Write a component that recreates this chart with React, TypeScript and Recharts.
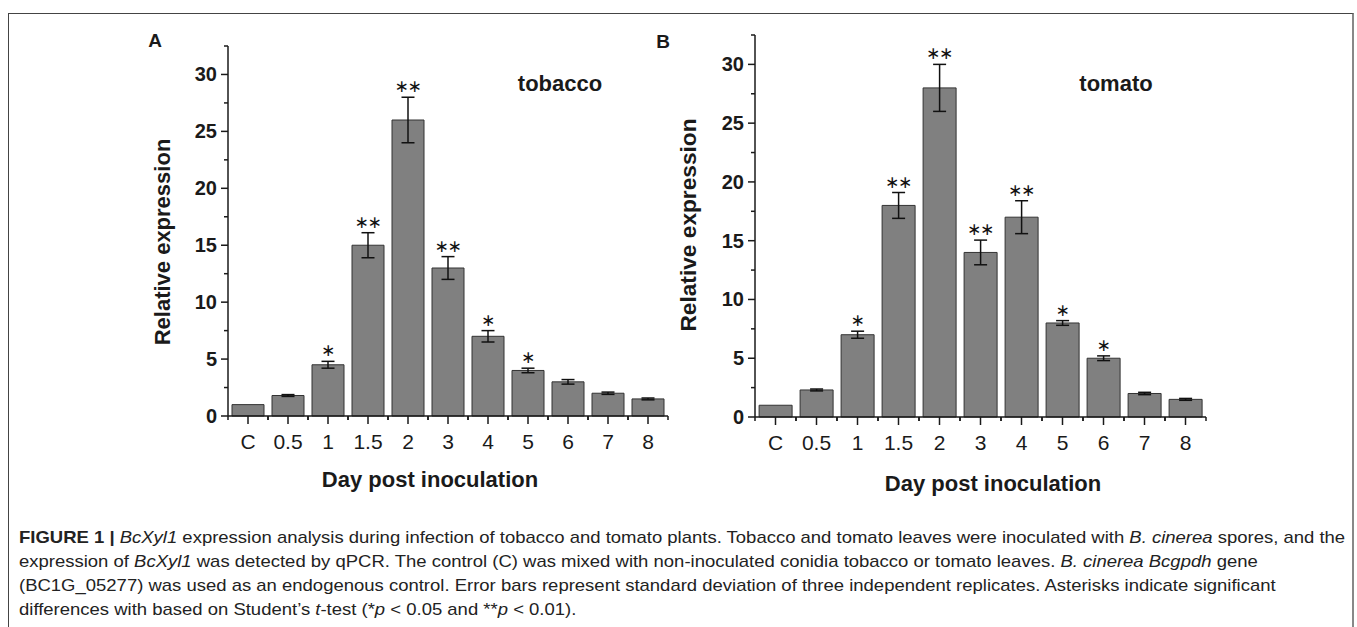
import React from 'react';
import { ComposedChart, Bar, Line, XAxis, YAxis, ErrorBar, LabelList } from 'recharts';

const categories = ['C', '0.5', '1', '1.5', '2', '3', '4', '5', '6', '7', '8'];
const tobaccoValues = [1, 1.8, 4.5, 15, 26, 13, 7, 4, 3, 2, 1.5];
const tobaccoErrors = [0, 0.08, 0.3, 1.1, 2, 1, 0.5, 0.2, 0.2, 0.1, 0.08];
const tobaccoStars = ['', '', '*', '**', '**', '**', '*', '*', '', '', ''];
const tomatoValues = [1, 2.3, 7, 18, 28, 14, 17, 8, 5, 2, 1.5];
const tomatoErrors = [0, 0.08, 0.3, 1.1, 2, 1.05, 1.4, 0.2, 0.2, 0.1, 0.08];
const tomatoStars = ['', '', '*', '**', '**', '**', '**', '*', '*', '', ''];
const yTicks = [0, 2.5, 5, 7.5, 10, 12.5, 15, 17.5, 20, 22.5, 25, 27.5, 30, 32.5];
const yDomain = [0, 32.5];

const buildRows = (values: number[], errors: number[], stars: string[]) =>
  categories.map((c, i) => ({
    cat: c,
    value: values[i],
    err: errors[i],
    top: values[i] + errors[i],
    stars: stars[i],
  }));

const tobaccoRows = buildRows(tobaccoValues, tobaccoErrors, tobaccoStars);
const tomatoRows = buildRows(tomatoValues, tomatoErrors, tomatoStars);

const FONT = '"Liberation Sans", Arial, sans-serif';
const INK = '#1a1a1a';

const Y_TICK_SIZE = 7;
const Y_TICK_MARGIN = 4;
const X_TICK_SIZE = 8;
const X_TICK_MARGIN = 10;

const YTick = (props: any) => {
  const { x, y, payload } = props;
  const axisX = x + Y_TICK_MARGIN + Y_TICK_SIZE;
  const v = payload.value;
  const major = Math.abs(v % 5) < 1e-6;
  return (
    <g>
      <line x1={axisX - (major ? Y_TICK_SIZE : 4)} x2={axisX} y1={y} y2={y} stroke={INK} strokeWidth={1.5} />
      {major && (
        <text x={x} y={y} textAnchor="end" dominantBaseline="central" fontFamily={FONT} fontWeight="bold" fontSize={20} fill={INK}>
          {v}
        </text>
      )}
    </g>
  );
};

const XTick = (props: any) => {
  const { x, y, payload } = props;
  const axisY = y - X_TICK_SIZE - X_TICK_MARGIN;
  const half = payload.offset || 20;
  return (
    <g>
      <line x1={x} x2={x} y1={axisY} y2={axisY + X_TICK_SIZE} stroke={INK} strokeWidth={1.5} />
      <line x1={x - half} x2={x - half} y1={axisY} y2={axisY + 4} stroke={INK} strokeWidth={1.5} />
      <line x1={x + half} x2={x + half} y1={axisY} y2={axisY + 4} stroke={INK} strokeWidth={1.5} />
      <text x={x} y={axisY + 25} textAnchor="middle" dominantBaseline="central" fontFamily={FONT} fontSize={21} fill={INK}>
        {payload.value}
      </text>
    </g>
  );
};

const StarLabel = (props: any) => {
  const { x, y, value } = props;
  if (!value) return null;
  const n = String(value).length;
  const gap = 13;
  const items = [];
  for (let i = 0; i < n; i++) {
    const cx = x + (i - (n - 1) / 2) * gap;
    items.push(
      <text key={i} x={cx} y={y - 11} textAnchor="middle" dominantBaseline="central" fontFamily='"DejaVu Sans", sans-serif' fontSize={17} fill="#111">
        ∗
      </text>
    );
  }
  return <g>{items}</g>;
};

const Panel = ({ rows, margin }: { rows: any[]; margin: any }) => (
  <ComposedChart width={600} height={500} data={rows} margin={margin} barCategoryGap="10%">
    <XAxis
      dataKey="cat"
      type="category"
      interval={0}
      height={30}
      tickSize={X_TICK_SIZE}
      tickMargin={X_TICK_MARGIN}
      tickLine={false}
      axisLine={{ stroke: INK, strokeWidth: 1.5 }}
      tick={<XTick />}
    />
    <YAxis
      type="number"
      domain={yDomain}
      ticks={yTicks}
      interval={0}
      width={60}
      tickSize={Y_TICK_SIZE}
      tickMargin={Y_TICK_MARGIN}
      tickLine={false}
      axisLine={{ stroke: INK, strokeWidth: 1.5 }}
      tick={<YTick />}
    />
    <Bar dataKey="value" fill="#808080" stroke="#333333" strokeWidth={1} isAnimationActive={false}>
      <ErrorBar dataKey="err" width={6.5} stroke="#111" strokeWidth={1.5} isAnimationActive={false} />
    </Bar>
    <Line dataKey="top" stroke="none" dot={false} activeDot={false} isAnimationActive={false} legendType="none">
      <LabelList dataKey="stars" content={<StarLabel />} />
    </Line>
  </ComposedChart>
);

const captionStyle = { fontFamily: FONT, fontSize: 16, fill: '#222' } as any;

export default function App() {
  return (
    <div style={{ position: 'absolute', left: 0, top: 0, width: 1357, height: 627, background: '#fff', overflow: 'hidden' }}>
      <div
        style={{
          position: 'absolute',
          left: 8,
          top: 13,
          width: 1346,
          height: 640,
          borderTop: '1.5px solid #444',
          borderLeft: '1.5px solid #444',
          borderRight: '2px solid #888',
          boxSizing: 'border-box',
        }}
      />
      <div style={{ position: 'absolute', left: 100, top: 0 }}>
        <Panel rows={tobaccoRows} margin={{ top: 46, right: 32, left: 68, bottom: 54 }} />
      </div>
      <div style={{ position: 'absolute', left: 650, top: 0 }}>
        <Panel rows={tomatoRows} margin={{ top: 35, right: 44, left: 45, bottom: 53 }} />
      </div>
      <svg width={1357} height={627} style={{ position: 'absolute', left: 0, top: 0, pointerEvents: 'none' }}>
        <text x={155} y={40} textAnchor="middle" dominantBaseline="central" fontFamily={FONT} fontWeight="bold" fontSize={19} fill={INK}>A</text>
        <text x={663} y={41} textAnchor="middle" dominantBaseline="central" fontFamily={FONT} fontWeight="bold" fontSize={19} fill={INK}>B</text>
        <text x={560} y={83} textAnchor="middle" dominantBaseline="central" fontFamily={FONT} fontWeight="bold" fontSize={22} fill={INK}>tobacco</text>
        <text x={1116} y={83} textAnchor="middle" dominantBaseline="central" fontFamily={FONT} fontWeight="bold" fontSize={22} fill={INK}>tomato</text>
        <text x={162} y={242} textAnchor="middle" dominantBaseline="central" transform="rotate(-90 162 242)" fontFamily={FONT} fontWeight="bold" fontSize={22} fill={INK}>Relative expression</text>
        <text x={688} y={225} textAnchor="middle" dominantBaseline="central" transform="rotate(-90 688 225)" fontFamily={FONT} fontWeight="bold" fontSize={22.7} fill={INK}>Relative expression</text>
        <text x={430} y={479} textAnchor="middle" dominantBaseline="central" fontFamily={FONT} fontWeight="bold" fontSize={22} fill={INK}>Day post inoculation</text>
        <text x={993} y={483} textAnchor="middle" dominantBaseline="central" fontFamily={FONT} fontWeight="bold" fontSize={22} fill={INK}>Day post inoculation</text>

        <g transform="translate(19,0) scale(1.156,1)">
          <text x={0} y={543} {...captionStyle}>
            <tspan fontWeight="bold">FIGURE 1 | </tspan>
            <tspan fontStyle="italic">BcXyl1</tspan>
            <tspan> expression analysis during infection of tobacco and tomato plants. Tobacco and tomato leaves were inoculated with </tspan>
            <tspan fontStyle="italic">B. cinerea</tspan>
            <tspan> spores, and the</tspan>
          </text>
          <text x={0} y={567} {...captionStyle}>
            <tspan>expression of </tspan>
            <tspan fontStyle="italic">BcXyl1</tspan>
            <tspan> was detected by qPCR. The control (C) was mixed with non-inoculated conidia tobacco or tomato leaves. </tspan>
            <tspan fontStyle="italic">B. cinerea Bcgpdh</tspan>
            <tspan> gene</tspan>
          </text>
          <text x={0} y={591} {...captionStyle}>
            (BC1G_05277) was used as an endogenous control. Error bars represent standard deviation of three independent replicates. Asterisks indicate significant
          </text>
          <text x={0} y={615} {...captionStyle}>
            <tspan>differences with based on Student’s </tspan>
            <tspan fontStyle="italic">t</tspan>
            <tspan>-test (*</tspan>
            <tspan fontStyle="italic">p</tspan>
            <tspan> {'<'} 0.05 and **</tspan>
            <tspan fontStyle="italic">p</tspan>
            <tspan> {'<'} 0.01).</tspan>
          </text>
        </g>
      </svg>
    </div>
  );
}
